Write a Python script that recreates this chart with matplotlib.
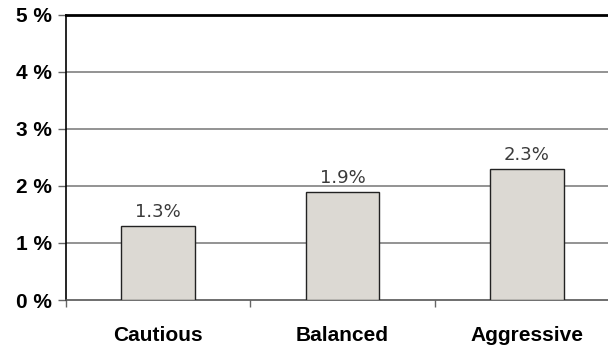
import matplotlib.pyplot as plt
import numpy as np

# Expected annual return per portfolio profile
profiles = ["Cautious", "Balanced", "Aggressive"]
returns = [1.3, 1.9, 2.3]
y_ticks = [0, 1, 2, 3, 4, 5]

fig = plt.figure(figsize=(6.08, 3.49), dpi=100)
# axes runs a little past the right edge of the figure
ax = fig.add_axes([66 / 608, 49 / 349, 553 / 608, 285 / 349])

x = np.arange(len(profiles))
ax.bar(x, returns, width=0.4, color="#dcd9d3", edgecolor="#222222",
       linewidth=1.0, zorder=3)

for xi, v in zip(x, returns):
    ax.annotate(f"{v:.1f}%", (xi, v), xytext=(0, 3.5),
                textcoords="offset points", ha="center", va="bottom",
                fontsize=13, color="#3a3a3a", family="DejaVu Sans", zorder=4)

ax.set_xlim(-0.5, len(profiles) - 0.5)
ax.set_ylim(0, 5)

# gridlines at each whole percent
for t in y_ticks[1:-1]:
    ax.axhline(t, color="#808080", lw=1.2, zorder=1)

ax.set_yticks(y_ticks)
ax.set_yticklabels([f"{t} %" for t in y_ticks], fontsize=15,
                   fontweight="bold", family="Liberation Sans")
ax.tick_params(axis="y", direction="out", length=6, width=1,
               color="#666666", pad=4)

# category labels centred, tick marks at the boundaries
ax.set_xticks(x)
ax.set_xticklabels(profiles, fontsize=15, fontweight="bold",
                   family="Liberation Sans")
ax.tick_params(axis="x", which="major", length=0, pad=19)
ax.set_xticks(np.arange(len(profiles) + 1) - 0.5, minor=True)
ax.tick_params(axis="x", which="minor", direction="out", length=5,
               width=1, color="#666666")

ax.spines["right"].set_visible(False)
ax.spines["top"].set_linewidth(2)
ax.spines["top"].set_color("black")
ax.spines["left"].set_color("black")
ax.spines["left"].set_linewidth(1.2)
ax.spines["bottom"].set_color("#555555")
ax.spines["bottom"].set_linewidth(1.2)

plt.savefig("out.png", dpi=100)
